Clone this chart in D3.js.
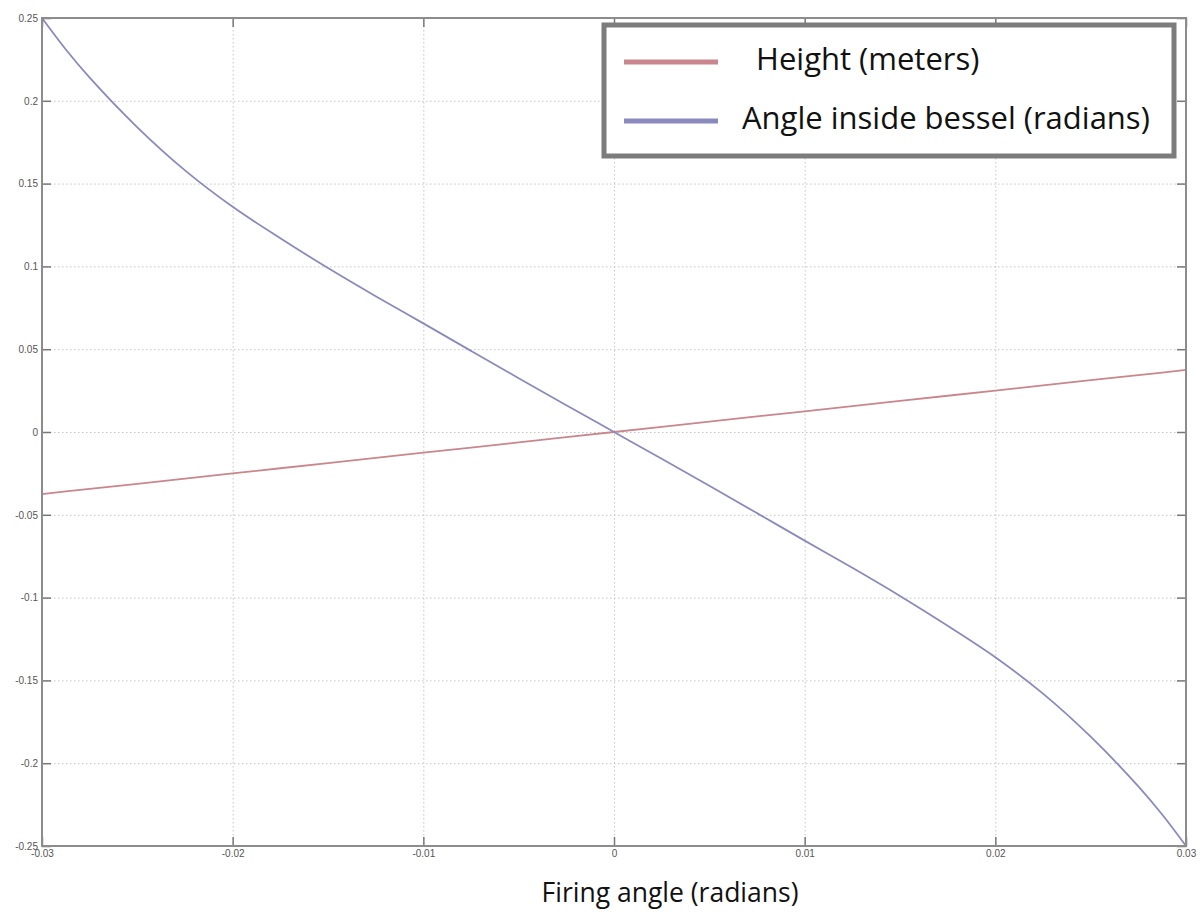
<!DOCTYPE html>
<html>
<head>
<meta charset="utf-8">
<script src="https://cdn.jsdelivr.net/npm/d3@7"></script>
<style>
  body { margin: 0; background: #fff; }
  .tick text { font: 10px "Liberation Sans", Arial, sans-serif; fill: #555; }
</style>
</head>
<body>
<svg class="chart"></svg>
<script>
// firing angle (radians)
var firingAngle = [-0.03, -0.02875, -0.0275, -0.025, -0.0225, -0.02, -0.0175, -0.015, -0.0125, -0.01, -0.0075, -0.005, -0.0025,
  0, 0.0025, 0.005, 0.0075, 0.01, 0.0125, 0.015, 0.0175, 0.02, 0.0225, 0.025, 0.0275, 0.02875, 0.03];

// height (meters)
var heightVals = [-0.0375, -0.0359, -0.0344, -0.0313, -0.0281, -0.025, -0.0219, -0.0188, -0.0156, -0.0125, -0.0094, -0.0063, -0.0031,
  0, 0.0031, 0.0063, 0.0094, 0.0125, 0.0156, 0.0188, 0.0219, 0.025, 0.0281, 0.0313, 0.0344, 0.0359, 0.0375];

// angle inside bessel (radians)
var angleVals = [0.25, 0.231, 0.214, 0.184, 0.158, 0.136, 0.117, 0.099, 0.082, 0.0656, 0.049, 0.0325, 0.0162,
  0, -0.0162, -0.0325, -0.049, -0.0656, -0.082, -0.099, -0.117, -0.136, -0.158, -0.184, -0.214, -0.231, -0.25];

var xTicks = [-0.03, -0.02, -0.01, 0, 0.01, 0.02, 0.03];
var xTickLabels = ["-0.03", "-0.02", "-0.01", "0", "0.01", "0.02", "0.03"];
var yTicks = [-0.25, -0.2, -0.15, -0.1, -0.05, 0, 0.05, 0.1, 0.15, 0.2, 0.25];
var yTickLabels = ["-0.25", "-0.2", "-0.15", "-0.1", "-0.05", "0", "0.05", "0.1", "0.15", "0.2", "0.25"];

var seriesNames = [" Height (meters)", "Angle inside bessel (radians)"];
var seriesColors = ["#c9868d", "#8a8abf"];

var margin = {top: 18, right: 18, bottom: 69, left: 42},
    width = 1204 - margin.left - margin.right,
    height = 915 - margin.top - margin.bottom;

var svg = d3.select(".chart")
    .attr("width", 1204)
    .attr("height", 915);

var chart = svg.append("g")
    .attr("transform", "translate(" + margin.left + "," + margin.top + ")");

var x = d3.scaleLinear().domain([-0.03, 0.03]).range([0, width]);
var y = d3.scaleLinear().domain([-0.25, 0.25]).range([height, 0]);

// grid
chart.append("g")
    .attr("class", "grid")
    .call(d3.axisBottom(x).tickValues(xTicks).tickSize(height).tickFormat(""))
    .call(function(g) { g.select(".domain").remove(); });
chart.append("g")
    .attr("class", "grid")
    .call(d3.axisLeft(y).tickValues(yTicks).tickSize(-width).tickFormat(""))
    .call(function(g) { g.select(".domain").remove(); });
chart.selectAll(".grid line")
    .attr("stroke", "#c4c4c4")
    .attr("stroke-dasharray", "1.5,2.5");

// lines
var data = firingAngle.map(function(d, i) {
  return {x: d, h: heightVals[i], a: angleVals[i]};
});

var lineH = d3.line()
    .x(function(d) { return x(d.x); })
    .y(function(d) { return y(d.h); });
var lineA = d3.line()
    .curve(d3.curveCatmullRom.alpha(0.5))
    .x(function(d) { return x(d.x); })
    .y(function(d) { return y(d.a); });

chart.append("path")
    .datum(data)
    .attr("fill", "none")
    .attr("stroke", seriesColors[0])
    .attr("stroke-width", 1.8)
    .attr("d", lineH);
chart.append("path")
    .datum(data)
    .attr("fill", "none")
    .attr("stroke", seriesColors[1])
    .attr("stroke-width", 1.8)
    .attr("d", lineA);

// axes with inward ticks
var tk = 9;
function noDomain(g) { g.select(".domain").remove(); }

chart.append("g")
    .attr("class", "x axis")
    .attr("transform", "translate(0," + height + ")")
    .call(d3.axisBottom(x).tickValues(xTicks).tickSize(-tk).tickPadding(4)
      .tickFormat(function(d, i) { return xTickLabels[i]; }))
    .call(noDomain);
chart.append("g")
    .attr("class", "y axis")
    .call(d3.axisLeft(y).tickValues(yTicks).tickSize(-tk).tickPadding(4)
      .tickFormat(function(d, i) { return yTickLabels[i]; }))
    .call(noDomain);
chart.append("g")
    .attr("transform", "translate(" + width + ",0)")
    .call(d3.axisRight(y).tickValues(yTicks).tickSize(-tk).tickFormat(""))
    .call(noDomain);
chart.append("g")
    .call(d3.axisTop(x).tickValues(xTicks).tickSize(-tk).tickFormat(""))
    .call(noDomain);
chart.selectAll(".tick line").filter(function() { return !this.parentNode.parentNode.classList.contains("grid"); })
    .attr("stroke", "#777")
    .attr("stroke-width", 1.5);

chart.append("rect")
    .attr("width", width)
    .attr("height", height)
    .attr("fill", "none")
    .attr("stroke", "#8c8c8c")
    .attr("stroke-width", 2);

// legend
var legend = svg.append("g").attr("class", "legend");
legend.append("rect")
    .attr("x", 604)
    .attr("y", 25)
    .attr("width", 570)
    .attr("height", 131)
    .attr("fill", "#fff")
    .attr("stroke", "#7c7c7c")
    .attr("stroke-width", 5);

var items = legend.selectAll(".item")
    .data(seriesNames)
    .enter().append("g")
      .attr("class", "item")
      .attr("transform", function(d, i) { return "translate(0," + (i * 59) + ")"; });

items.append("line")
    .attr("x1", 624)
    .attr("x2", 718)
    .attr("y1", 62)
    .attr("y2", 62)
    .attr("stroke", function(d, i) { return seriesColors[i]; })
    .attr("stroke-width", 5);

items.append("text")
    .attr("x", function(d, i) { return i === 0 ? 748 : 742; })
    .attr("y", 70)
    .style("font", "31px 'Open Sans', sans-serif")
    .style("fill", "#111")
    .style("white-space", "pre")
    .text(function(d) { return d; });

svg.append("text")
    .attr("x", 670)
    .attr("y", 902)
    .attr("text-anchor", "middle")
    .style("font", "26.5px 'Open Sans', sans-serif")
    .style("fill", "#111")
    .text("Firing angle (radians)");
</script>
</body>
</html>
